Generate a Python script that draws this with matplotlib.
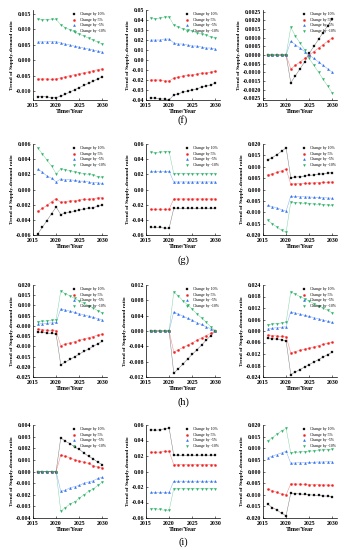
import matplotlib
matplotlib.use("Agg")
import matplotlib.pyplot as plt
from matplotlib.ticker import FormatStrFormatter, MultipleLocator

plt.rcParams['font.family'] = ['Liberation Serif', 'DejaVu Serif']
plt.rcParams['axes.unicode_minus'] = False

years = list(range(2016, 2031))
series_names = ['Change by 10%', 'Change by 5%', 'Change by -5%', 'Change by -10%']
colors = ['#111111', '#ee2222', '#2a6cf0', '#22b060']
markers = ['s', 'o', '^', 'v']

# ---- row (f) ----
f1_up10 = [-0.0118, -0.0117, -0.0118, -0.0120, -0.0120, -0.0116, -0.0109, -0.0102, -0.0095, -0.0088, -0.0081, -0.0074, -0.0067, -0.0060, -0.0053]
f1_up5 = [-0.0060, -0.0060, -0.0060, -0.0061, -0.0060, -0.0056, -0.0053, -0.0049, -0.0046, -0.0043, -0.0040, -0.0037, -0.0033, -0.0030, -0.0027]
f1_dn5 = [0.0060, 0.0060, 0.0060, 0.0061, 0.0061, 0.0057, 0.0053, 0.0050, 0.0046, 0.0043, 0.0040, 0.0037, 0.0034, 0.0030, 0.0027]
f1_dn10 = [0.0133, 0.0131, 0.0132, 0.0133, 0.0133, 0.0115, 0.0106, 0.0099, 0.0092, 0.0085, 0.0079, 0.0072, 0.0066, 0.0059, 0.0053]

f2_up10 = [-0.038, -0.038, -0.039, -0.039, -0.040, -0.035, -0.034, -0.032, -0.031, -0.030, -0.029, -0.027, -0.026, -0.025, -0.023]
f2_up5 = [-0.020, -0.020, -0.020, -0.021, -0.021, -0.018, -0.017, -0.016, -0.015, -0.015, -0.014, -0.013, -0.013, -0.012, -0.011]
f2_dn5 = [0.020, 0.020, 0.020, 0.021, 0.021, 0.017, 0.016, 0.016, 0.015, 0.014, 0.014, 0.013, 0.012, 0.012, 0.011]
f2_dn10 = [0.042, 0.041, 0.042, 0.043, 0.043, 0.035, 0.033, 0.031, 0.030, 0.029, 0.027, 0.026, 0.025, 0.023, 0.022]

f3_up10 = [0, 0, 0, 0, 0, -0.0016, -0.0012, -0.0008, -0.0004, 0.0001, 0.0005, 0.0009, 0.0013, 0.0017, 0.0021]
f3_up5 = [0, 0, 0, 0, 0, -0.0008, -0.0006, -0.0004, -0.0002, 0.0000, 0.0002, 0.0004, 0.0006, 0.0008, 0.0010]
f3_dn5 = [0, 0, 0, 0, 0, 0.0008, 0.0006, 0.0004, 0.0002, 0.0000, -0.0002, -0.0004, -0.0006, -0.0008, -0.0010]
f3_dn10 = [0, 0, 0, 0, 0, 0.0016, 0.0011, 0.0007, 0.0003, -0.0002, -0.0006, -0.0010, -0.0014, -0.0018, -0.0022]

# ---- row (g) ----
g1_up10 = [-0.0059, -0.0050, -0.0041, -0.0032, -0.0023, -0.0033, -0.0031, -0.0030, -0.0029, -0.0027, -0.0026, -0.0025, -0.0024, -0.0022, -0.0021]
g1_up5 = [-0.0029, -0.0025, -0.0021, -0.0016, -0.0012, -0.0017, -0.0016, -0.0015, -0.0015, -0.0014, -0.0013, -0.0013, -0.0012, -0.0011, -0.0011]
g1_dn5 = [0.0027, 0.0023, 0.0018, 0.0015, 0.0010, 0.0014, 0.0013, 0.0013, 0.0012, 0.0011, 0.0011, 0.0010, 0.0009, 0.0009, 0.0008]
g1_dn10 = [0.0055, 0.0047, 0.0039, 0.0031, 0.0021, 0.0027, 0.0026, 0.0025, 0.0023, 0.0022, 0.0021, 0.0020, 0.0019, 0.0017, 0.0016]

g2_up10 = [-0.050, -0.050, -0.050, -0.051, -0.051, -0.025, -0.025, -0.025, -0.025, -0.025, -0.025, -0.025, -0.025, -0.025, -0.025]
g2_up5 = [-0.026, -0.026, -0.026, -0.026, -0.026, -0.0125, -0.0125, -0.0125, -0.0125, -0.0125, -0.0125, -0.0125, -0.0125, -0.0125, -0.0125]
g2_dn5 = [0.024, 0.024, 0.024, 0.024, 0.024, 0.010, 0.010, 0.010, 0.010, 0.010, 0.010, 0.010, 0.010, 0.010, 0.010]
g2_dn10 = [0.049, 0.048, 0.049, 0.050, 0.050, 0.021, 0.021, 0.021, 0.021, 0.021, 0.021, 0.021, 0.021, 0.021, 0.021]

g3_up10 = [0.0130, 0.0140, 0.0153, 0.0168, 0.0183, 0.0052, 0.0054, 0.0057, 0.0059, 0.0062, 0.0064, 0.0067, 0.0069, 0.0072, 0.0074]
g3_up5 = [0.0064, 0.0069, 0.0075, 0.0082, 0.0090, 0.0024, 0.0025, 0.0026, 0.0027, 0.0028, 0.0029, 0.0030, 0.0031, 0.0032, 0.0033]
g3_dn5 = [-0.0070, -0.0075, -0.0081, -0.0088, -0.0095, -0.0029, -0.0030, -0.0031, -0.0032, -0.0033, -0.0034, -0.0035, -0.0036, -0.0037, -0.0038]
g3_dn10 = [-0.0135, -0.0150, -0.0165, -0.0180, -0.0188, -0.0056, -0.0058, -0.0059, -0.0061, -0.0062, -0.0064, -0.0065, -0.0067, -0.0068, -0.0070]

# ---- row (h) ----
h1_up10 = [-0.0030, -0.0032, -0.0035, -0.0037, -0.0040, -0.0190, -0.0177, -0.0164, -0.0151, -0.0138, -0.0125, -0.0113, -0.0100, -0.0088, -0.0075]
h1_up5 = [-0.0017, -0.0019, -0.0021, -0.0022, -0.0024, -0.0096, -0.0089, -0.0083, -0.0077, -0.0071, -0.0064, -0.0058, -0.0052, -0.0045, -0.0039]
h1_dn5 = [0.0009, 0.0011, 0.0013, 0.0015, 0.0017, 0.0084, 0.0078, 0.0072, 0.0066, 0.0060, 0.0054, 0.0048, 0.0042, 0.0036, 0.0030]
h1_dn10 = [0.0020, 0.0022, 0.0025, 0.0027, 0.0030, 0.0170, 0.0158, 0.0146, 0.0134, 0.0122, 0.0111, 0.0099, 0.0087, 0.0075, 0.0063]

h2_up10 = [0, 0, 0, 0, 0, -0.0110, -0.0098, -0.0086, -0.0073, -0.0061, -0.0049, -0.0037, -0.0024, -0.0012, 0.0000]
h2_up5 = [0, 0, 0, 0, 0, -0.0055, -0.0049, -0.0043, -0.0037, -0.0031, -0.0024, -0.0018, -0.0012, -0.0006, 0.0000]
h2_dn5 = [0, 0, 0, 0, 0, 0.0050, 0.0044, 0.0039, 0.0033, 0.0028, 0.0022, 0.0017, 0.0011, 0.0006, 0.0000]
h2_dn10 = [0, 0, 0, 0, 0, 0.0102, 0.0091, 0.0079, 0.0068, 0.0057, 0.0045, 0.0034, 0.0023, 0.0011, 0.0000]

h3_up10 = [-0.0036, -0.0040, -0.0043, -0.0047, -0.0051, -0.0227, -0.0214, -0.0201, -0.0188, -0.0175, -0.0162, -0.0149, -0.0136, -0.0123, -0.0110]
h3_up5 = [-0.0022, -0.0024, -0.0026, -0.0028, -0.0030, -0.0113, -0.0107, -0.0101, -0.0095, -0.0089, -0.0083, -0.0076, -0.0070, -0.0064, -0.0058]
h3_dn5 = [0.0013, 0.0015, 0.0017, 0.0020, 0.0022, 0.0100, 0.0094, 0.0088, 0.0082, 0.0076, 0.0070, 0.0064, 0.0057, 0.0051, 0.0045]
h3_dn10 = [0.0033, 0.0036, 0.0039, 0.0042, 0.0045, 0.0204, 0.0192, 0.0180, 0.0168, 0.0156, 0.0143, 0.0131, 0.0119, 0.0107, 0.0095]

# ---- row (i) ----
i1_up10 = [0, 0, 0, 0, 0, 0.0029, 0.0026, 0.0024, 0.0021, 0.0019, 0.0016, 0.0013, 0.0011, 0.0008, 0.0006]
i1_up5 = [0, 0, 0, 0, 0, 0.0014, 0.0013, 0.0012, 0.0010, 0.0009, 0.0008, 0.0007, 0.0005, 0.0004, 0.0003]
i1_dn5 = [0, 0, 0, 0, 0, -0.0017, -0.0016, -0.0014, -0.0013, -0.0012, -0.0010, -0.0009, -0.0008, -0.0006, -0.0005]
i1_dn10 = [0, 0, 0, 0, 0, -0.0034, -0.0031, -0.0028, -0.0026, -0.0023, -0.0020, -0.0017, -0.0015, -0.0012, -0.0009]

i2_up10 = [0.054, 0.053, 0.054, 0.055, 0.056, 0.021, 0.021, 0.021, 0.021, 0.021, 0.021, 0.021, 0.021, 0.021, 0.021]
i2_up5 = [0.025, 0.025, 0.025, 0.026, 0.026, 0.009, 0.009, 0.009, 0.009, 0.009, 0.009, 0.009, 0.009, 0.009, 0.009]
i2_dn5 = [-0.027, -0.027, -0.027, -0.027, -0.027, -0.0125, -0.0125, -0.0125, -0.0125, -0.0125, -0.0125, -0.0125, -0.0125, -0.0125, -0.0125]
i2_dn10 = [-0.048, -0.048, -0.049, -0.050, -0.050, -0.022, -0.022, -0.022, -0.022, -0.022, -0.022, -0.022, -0.022, -0.022, -0.022]

i3_up10 = [-0.0140, -0.0155, -0.0165, -0.0180, -0.0190, -0.0093, -0.0095, -0.0097, -0.0098, -0.0100, -0.0102, -0.0103, -0.0105, -0.0106, -0.0108]
i3_up5 = [-0.0076, -0.0082, -0.0090, -0.0097, -0.0100, -0.0053, -0.0054, -0.0054, -0.0055, -0.0056, -0.0056, -0.0057, -0.0058, -0.0058, -0.0059]
i3_dn5 = [0.0059, 0.0066, 0.0073, 0.0080, 0.0087, 0.0036, 0.0037, 0.0038, 0.0038, 0.0039, 0.0040, 0.0041, 0.0041, 0.0042, 0.0043]
i3_dn10 = [0.0132, 0.0145, 0.0160, 0.0175, 0.0185, 0.0080, 0.0082, 0.0084, 0.0086, 0.0087, 0.0089, 0.0091, 0.0093, 0.0094, 0.0096]

panels = [
    [(f1_up10, f1_up5, f1_dn5, f1_dn10), (f2_up10, f2_up5, f2_dn5, f2_dn10), (f3_up10, f3_up5, f3_dn5, f3_dn10)],
    [(g1_up10, g1_up5, g1_dn5, g1_dn10), (g2_up10, g2_up5, g2_dn5, g2_dn10), (g3_up10, g3_up5, g3_dn5, g3_dn10)],
    [(h1_up10, h1_up5, h1_dn5, h1_dn10), (h2_up10, h2_up5, h2_dn5, h2_dn10), (h3_up10, h3_up5, h3_dn5, h3_dn10)],
    [(i1_up10, i1_up5, i1_dn5, i1_dn10), (i2_up10, i2_up5, i2_dn5, i2_dn10), (i3_up10, i3_up5, i3_dn5, i3_dn10)],
]
# (ymin, ymax, step, format) per panel
yaxes = [
    [(-0.0128, 0.0163, 0.005, '%.3f'), (-0.04, 0.05, 0.01, '%.2f'), (-0.0026, 0.0026, 0.0005, '%.4f')],
    [(-0.006, 0.006, 0.002, '%.3f'), (-0.06, 0.06, 0.02, '%.2f'), (-0.020, 0.020, 0.005, '%.3f')],
    [(-0.025, 0.020, 0.005, '%.3f'), (-0.012, 0.012, 0.004, '%.3f'), (-0.024, 0.024, 0.006, '%.3f')],
    [(-0.004, 0.004, 0.001, '%.3f'), (-0.06, 0.06, 0.02, '%.2f'), (-0.020, 0.020, 0.005, '%.3f')],
]
row_labels = ['(f)', '(g)', '(h)', '(i)']

W, H = 345, 550
fig = plt.figure(figsize=(W / 100, H / 100), dpi=100)
fig.patch.set_facecolor('white')

col_left = [33, 146, 263]
col_width = 74
row_top = [10, 144, 285, 425]
row_bottom = [100, 235, 377, 518]
label_y = [120, 260, 402, 542]

for r in range(4):
    for c in range(3):
        x0 = col_left[c] / W
        y0 = 1 - row_bottom[r] / H
        h = (row_bottom[r] - row_top[r]) / H
        ax = fig.add_axes([x0, y0, col_width / W, h])
        data = panels[r][c]
        for vals, name, col, mk in zip(data, series_names, colors, markers):
            ax.plot(years, vals, color=col, lw=0.35, alpha=0.55, ls='-')
            ax.plot(years, vals, ls='none', marker=mk, ms=1.6, color=col,
                    mec=col, mew=0.2, label=name)
        ymin, ymax, step, fmt = yaxes[r][c]
        ax.set_ylim(ymin, ymax)
        ax.yaxis.set_major_locator(MultipleLocator(step))
        ax.yaxis.set_major_formatter(FormatStrFormatter(fmt))
        ax.set_xlim(2015, 2031)
        ax.set_xticks([2015, 2020, 2025, 2030])
        for s in ['top', 'right']:
            ax.spines[s].set_visible(False)
        for s in ['left', 'bottom']:
            ax.spines[s].set_linewidth(0.5)
        ax.tick_params(labelsize=4.2, width=0.4, length=1.5, direction='in')
        ax.tick_params(axis='x', pad=2.5)
        ax.tick_params(axis='y', pad=1.5)
        for t in ax.get_xticklabels() + ax.get_yticklabels():
            t.set_fontweight('bold')
        ax.set_xlabel('Time/Year', fontsize=4.5, fontweight='bold', labelpad=0.5)
        ax.set_ylabel('Trend of Supply-demand ratio', fontsize=3.8,
                      fontweight='bold', labelpad=1)
        ax.legend(loc='upper right', fontsize=2.8, frameon=False,
                  handlelength=2.0, handletextpad=0.5, borderaxespad=0.2,
                  labelspacing=0.4, bbox_to_anchor=(1.02, 1.0))
    fig.text((col_left[1] + col_width / 2) / W, 1 - label_y[r] / H, row_labels[r],
             ha='center', va='center', fontsize=7.5)

fig.savefig('out.png', dpi=100, facecolor='white')
